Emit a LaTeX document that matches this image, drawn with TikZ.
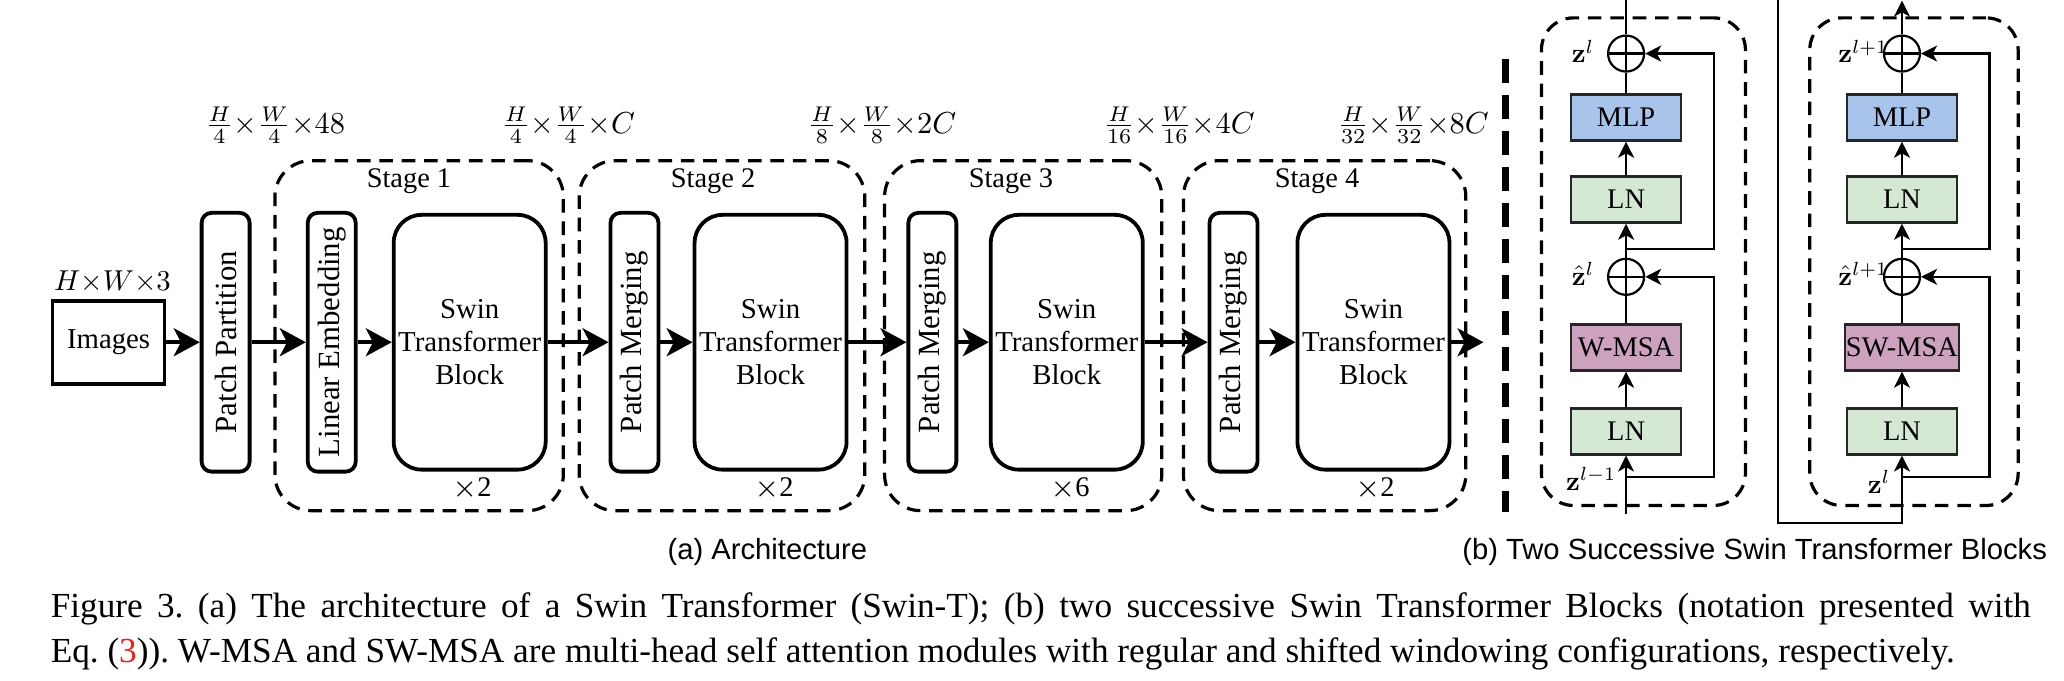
\documentclass[tikz,border=0pt]{standalone}
\usepackage[no-math]{fontspec}
\setmainfont{Liberation Serif}
\setsansfont{Liberation Sans}
\usetikzlibrary{arrows.meta}
\newcommand\myfs[2]{\fontsize{#1}{#2}\selectfont}
\newcommand\mth[2]{\scalebox{#1}{$#2$}}
\definecolor{mlpblue}{HTML}{A9C4EB}
\definecolor{lngreen}{HTML}{D5E8D4}
\definecolor{msapurple}{HTML}{CDA2BE}
\definecolor{capred}{HTML}{E8201E}
\begin{document}
\begin{tikzpicture}[x=0.32908pt,y=-0.32908pt,
  imgbox/.style={draw, line width=0.95pt, minimum width=28pt, minimum height=20.7pt, inner sep=0, font=\myfs{7.2}{8}},
  ablk/.style={draw, line width=0.95pt, rounded corners=2.5pt, minimum width=12pt, minimum height=64.7pt, inner sep=0, font=\myfs{7.7}{9}},
  swinblk/.style={draw, line width=0.95pt, rounded corners=7pt, minimum width=38pt, minimum height=63.7pt, inner sep=0, align=center, font=\myfs{7.2}{8.3}},
  stagebox/.style={draw, line width=0.8pt, rounded corners=9pt, dash pattern=on 3.4pt off 2.2pt, minimum height=87.5pt, inner sep=0},
  lbl/.style={font=\myfs{7.1}{8}, inner sep=0},
  dimlbl/.style={font=\myfs{10}{12}, inner sep=0},
  aarr/.style={line width=0.9pt, -{Stealth[length=6.5pt,width=7pt,inset=1.8pt]}},
  sepline/.style={line width=1.6pt, dash pattern=on 6pt off 3pt},
  bdash/.style={draw, line width=0.8pt, rounded corners=8pt, dash pattern=on 3.4pt off 2.2pt, minimum height=121.9pt, inner sep=0},
  bbox/.style={draw=black!85, line width=0.6pt, minimum width=27.5pt, minimum height=11.5pt, inner sep=0, font=\myfs{7.1}{8}},
  bline/.style={line width=0.55pt},
  barr/.style={line width=0.55pt, -{Stealth[length=4pt,width=4pt,inset=1.1pt]}},
  addop/.style={circle, draw, line width=0.55pt, minimum size=9pt, inner sep=0,
    path picture={\draw[line width=0.55pt] (path picture bounding box.north) -- (path picture bounding box.south)
      (path picture bounding box.west) -- (path picture bounding box.east);}},
  zlbl/.style={font=\myfs{10}{12}, inner sep=0},
  subcap/.style={font=\sffamily\myfs{7.3}{9}, inner sep=0}
]
\useasboundingbox (0,0) rectangle (1568,517);

% ---------------- (a) Architecture ----------------
\node[stagebox, minimum width=72.1pt] (st1) at (318.4,255) {};
\node[stagebox, minimum width=71.4pt] (st2) at (548.5,255) {};
\node[stagebox, minimum width=69.3pt] (st3) at (777.3,255) {};
\node[stagebox, minimum width=70.6pt] (st4) at (1006.3,255) {};

\node[lbl] (st1l) at (310.7,137.3) {Stage 1};
\node[lbl] (st2l) at (541.7,137.3) {Stage 2};
\node[lbl] (st3l) at (768,137.3) {Stage 3};
\node[lbl] (st4l) at (1000.5,137.3) {Stage 4};

\node[lbl] (rep1) at (358.6,371) {$\times$2};
\node[lbl] (rep2) at (588,371) {$\times$2};
\node[lbl] (rep3) at (812.9,371) {$\times$6};
\node[lbl] (rep4) at (1044.6,371) {$\times$2};

\node[imgbox] (img) at (82.5,260) {Images};
\node[dimlbl] (imgdim) at (85.5,214) {\mth{0.72}{H{\times}W{\times}3}};
\node[ablk] (pp) at (171.4,260) {\rotatebox{90}{Patch Partition}};
\node[ablk] (le) at (252,260) {\rotatebox{90}{Linear Embedding}};
\node[swinblk] (sw1) at (356.8,260) {Swin\\Transformer\\Block};
\node[ablk] (pm2) at (482,260) {\rotatebox{90}{Patch Merging}};
\node[swinblk] (sw2) at (585.4,260) {Swin\\Transformer\\Block};
\node[ablk] (pm3) at (708.3,260) {\rotatebox{90}{Patch Merging}};
\node[swinblk] (sw3) at (810.4,260) {Swin\\Transformer\\Block};
\node[ablk] (pm4) at (937.1,260) {\rotatebox{90}{Patch Merging}};
\node[swinblk] (sw4) at (1043.4,260) {Swin\\Transformer\\Block};
\coordinate (aout) at (1127,260);

\node[dimlbl] (d1) at (209,95) {\mth{0.76}{{\frac{H}{4}}{\times}{\frac{W}{4}}{\times}48}};
\node[dimlbl] (d2) at (431.7,95) {\mth{0.76}{{\frac{H}{4}}{\times}{\frac{W}{4}}{\times}C}};
\node[dimlbl] (d3) at (670,95) {\mth{0.76}{{\frac{H}{8}}{\times}{\frac{W}{8}}{\times}2C}};
\node[dimlbl] (d4) at (895.7,95) {\mth{0.76}{{\frac{H}{16}}{\times}{\frac{W}{16}}{\times}4C}};
\node[dimlbl] (d5) at (1073.5,95) {\mth{0.76}{{\frac{H}{32}}{\times}{\frac{W}{32}}{\times}8C}};

\draw[aarr] (img) -- (pp);
\draw[aarr] (pp) -- (le);
\draw[aarr] (le) -- (sw1);
\draw[aarr] (sw1) -- (pm2);
\draw[aarr] (pm2) -- (sw2);
\draw[aarr] (sw2) -- (pm3);
\draw[aarr] (pm3) -- (sw3);
\draw[aarr] (sw3) -- (pm4);
\draw[aarr] (pm4) -- (sw4);
\draw[aarr] (sw4) -- (aout);

\node[subcap] (capa) at (583,419) {(a) Architecture};

% separator
\coordinate (sepT) at (1143.8,45);
\coordinate (sepB) at (1143.8,389);
\draw[sepline] (sepT) -- (sepB);

% ---------------- (b) two blocks ----------------
% left block
\node[bdash, minimum width=51pt] (Lfr) at (1248.5,198.8) {};
\node[bbox, fill=lngreen] (Lln1) at (1235.3,327.7) {LN};
\node[bbox, fill=msapurple] (Lmsa) at (1235.3,264) {W-MSA};
\node[addop] (Ladd1) at (1235.3,210.3) {};
\node[bbox, fill=lngreen] (Lln2) at (1235.3,151.6) {LN};
\node[bbox, fill=mlpblue] (Lmlp) at (1235.3,89.3) {MLP};
\node[addop] (Ladd2) at (1235.3,40.7) {};
\coordinate (Lin) at (1235.3,390.7);
\coordinate (Lb1) at (1235.3,362.2);
\coordinate (Lr1) at (1302.1,210.3);
\coordinate (Lb2) at (1235.3,189.4);
\coordinate (Lr2) at (1302.1,40.7);
\coordinate (Lout) at (1235.3,0);
\draw[barr] (Lin) -- (Lln1);
\draw[barr] (Lb1) -| (Lr1) -- (Ladd1);
\draw[barr] (Lln1) -- (Lmsa);
\draw[bline] (Lmsa) -- (Ladd1);
\draw[barr] (Ladd1) -- (Lln2);
\draw[barr] (Lb2) -| (Lr2) -- (Ladd2);
\draw[barr] (Lln2) -- (Lmlp);
\draw[bline] (Lmlp) -- (Ladd2);
\draw[bline] (Ladd2) -- (Lout);
\node[zlbl, anchor=west] (Lz2) at (1193.5,39) {\mth{0.68}{\mathbf{z}^{l}}};
\node[zlbl, anchor=west] (Lz1) at (1193.5,208) {\mth{0.68}{\hat{\mathbf{z}}^{l}}};
\node[zlbl, anchor=east] (Lz0) at (1228.5,364) {\mth{0.68}{\mathbf{z}^{l-1}}};

% right block
\node[bdash, minimum width=52.1pt] (Rfr) at (1454,198.8) {};
\node[bbox, fill=lngreen] (Rln1) at (1444.9,327.7) {LN};
\node[bbox, fill=msapurple, minimum width=28.6pt] (Rmsa) at (1444.9,264) {SW-MSA};
\node[addop] (Radd1) at (1444.9,210.3) {};
\node[bbox, fill=lngreen] (Rln2) at (1444.9,151.6) {LN};
\node[bbox, fill=mlpblue] (Rmlp) at (1444.9,89.3) {MLP};
\node[addop] (Radd2) at (1444.9,40.7) {};
\coordinate (Rtop) at (1350.7,0);
\coordinate (Rbot) at (1350.7,397.5);
\coordinate (Rb1) at (1444.9,362.2);
\coordinate (Rr1) at (1511.4,210.3);
\coordinate (Rb2) at (1444.9,189.4);
\coordinate (Rr2) at (1511.4,40.7);
\coordinate (Rout) at (1444.9,0.5);
\draw[barr] (Rtop) -- (Rbot) -| (Rln1);
\draw[barr] (Rb1) -| (Rr1) -- (Radd1);
\draw[barr] (Rln1) -- (Rmsa);
\draw[bline] (Rmsa) -- (Radd1);
\draw[barr] (Radd1) -- (Rln2);
\draw[barr] (Rb2) -| (Rr2) -- (Radd2);
\draw[barr] (Rln2) -- (Rmlp);
\draw[bline] (Rmlp) -- (Radd2);
\draw[barr] (Radd2) -- (Rout);
\node[zlbl, anchor=west] (Rz2) at (1396,39) {\mth{0.68}{\mathbf{z}^{l+1}}};
\node[zlbl, anchor=west] (Rz1) at (1396,208) {\mth{0.68}{\hat{\mathbf{z}}^{l+1}}};
\node[zlbl, anchor=east] (Rz0) at (1436.5,366) {\mth{0.68}{\mathbf{z}^{l}}};

\node[subcap] (capb) at (1333,419) {(b) Two Successive Swin Transformer Blocks};

% ---------------- caption ----------------
\node[anchor=north west, inner sep=0, text width=495pt, align=justify, font=\myfs{8.8}{11.2}\frenchspacing] (cap) at (38,450)
 {Figure 3. (a) The architecture of a Swin Transformer (Swin-T); (b) two successive Swin Transformer Blocks (notation presented with\linebreak Eq.~(\textcolor{capred}{3})). W-MSA and SW-MSA are multi-head self attention modules with regular and shifted windowing configurations, respectively.};
\end{tikzpicture}
\end{document}
